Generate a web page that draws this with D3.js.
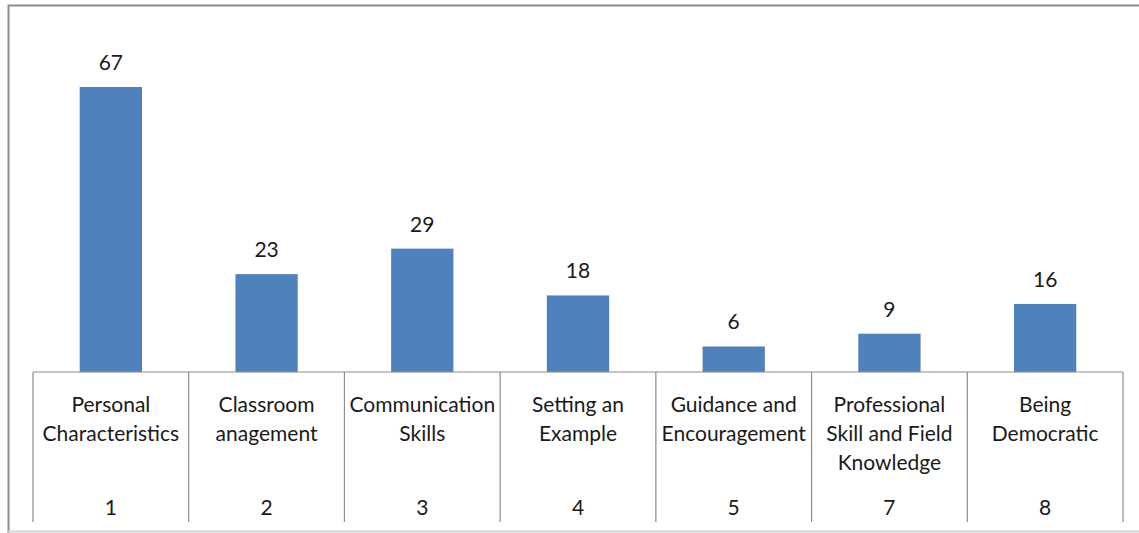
<!DOCTYPE html>
<html>
<head>
<meta charset="utf-8">
<script src="https://cdn.jsdelivr.net/npm/d3@7"></script>
<style>
  html, body { margin: 0; padding: 0; background: #fff; }
  svg { display: block; }
  text { font-family: Lato, "Open Sans", sans-serif; fill: #1a1a1a; }
</style>
</head>
<body>
<svg id="chart" width="1139" height="533"></svg>
<script>
// Category codes, their names (wrapped lines) and counts
const codes = ["1", "2", "3", "4", "5", "7", "8"];
const names = [
  ["Personal", "Characteristics"],
  ["Classroom", "anagement"],
  ["Communication", "Skills"],
  ["Setting an", "Example"],
  ["Guidance and", "Encouragement"],
  ["Professional", "Skill and Field", "Knowledge"],
  ["Being", "Democratic"]
];
const counts = [67, 23, 29, 18, 6, 9, 16];

const W = 1139, H = 533;
const svg = d3.select("#chart");

// frame around the chart area
svg.append("path")
  .attr("d", `M8.5,${H + 2} V5.5 H${W + 2}`)
  .attr("fill", "none").attr("stroke", "#8c8c8c").attr("stroke-width", 2);
svg.append("line")
  .attr("x1", 8).attr("x2", W).attr("y1", 531.5).attr("y2", 531.5)
  .attr("stroke", "#d4d4d4").attr("stroke-width", 2);

const x = d3.scaleBand().domain(codes).range([33, 1123]).paddingInner(0).paddingOuter(0);
const y = d3.scaleLinear().domain([0, 67]).range([372, 87]);
const barW = x.bandwidth() * 0.4;
const fs = 21;

// bars
svg.append("g").selectAll("rect")
  .data(codes)
  .join("rect")
  .attr("x", (d) => x(d) + (x.bandwidth() - barW) / 2)
  .attr("y", (d, i) => y(counts[i]))
  .attr("width", barW)
  .attr("height", (d, i) => y(0) - y(counts[i]))
  .attr("fill", "#4f81bd");

// value labels
svg.append("g").selectAll("text")
  .data(codes)
  .join("text")
  .attr("x", (d) => x(d) + x.bandwidth() / 2)
  .attr("y", (d, i) => y(counts[i]) - 17)
  .attr("text-anchor", "middle")
  .attr("font-size", fs)
  .text((d, i) => counts[i]);

// category table under the baseline
const axis = svg.append("g").attr("stroke", "#8c8c8c").attr("stroke-width", 1.2);
axis.append("line")
  .attr("x1", x.range()[0]).attr("x2", x.range()[1])
  .attr("y1", y(0)).attr("y2", y(0));
axis.selectAll("line.sep")
  .data(codes.concat(["end"]))
  .join("line")
  .attr("class", "sep")
  .attr("x1", (d, i) => i < codes.length ? x(d) : x.range()[1])
  .attr("x2", (d, i) => i < codes.length ? x(d) : x.range()[1])
  .attr("y1", y(0)).attr("y2", 522);

const cat = svg.append("g").selectAll("g")
  .data(codes)
  .join("g")
  .attr("transform", (d) => `translate(${x(d) + x.bandwidth() / 2},0)`);

cat.each(function (d, i) {
  const g = d3.select(this);
  names[i].forEach((line, k) => {
    g.append("text")
      .attr("y", 411.5 + k * 29)
      .attr("text-anchor", "middle")
      .attr("font-size", fs)
      .text(line);
  });
  g.append("text")
    .attr("y", 515)
    .attr("text-anchor", "middle")
    .attr("font-size", fs)
    .text(d);
});
</script>
</body>
</html>
